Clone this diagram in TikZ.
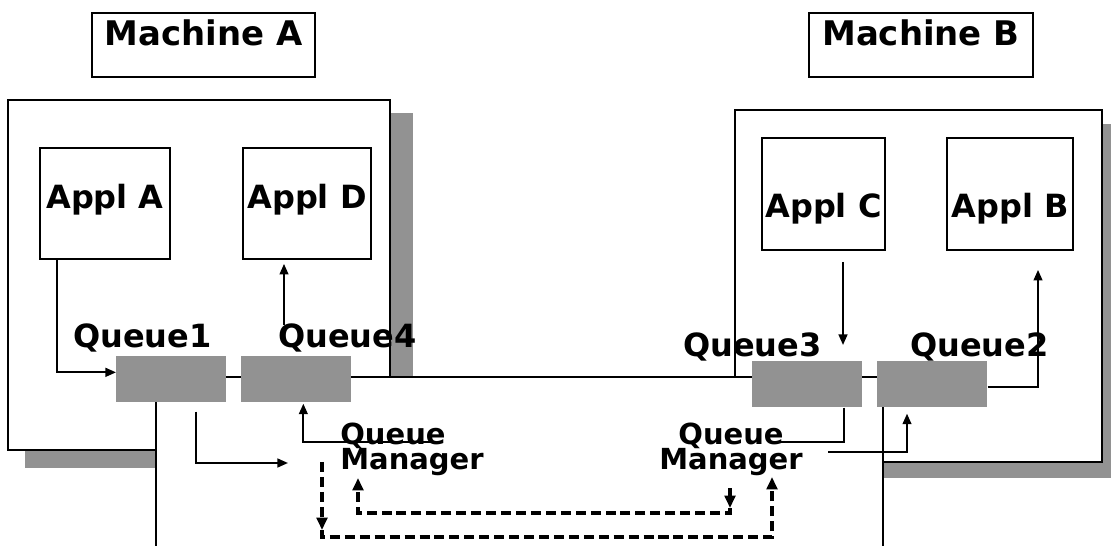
\documentclass[tikz,border=0pt]{standalone}
\usepackage{fontspec}
\setmainfont{DejaVu Sans}
\usetikzlibrary{arrows.meta,calc}
\definecolor{qGray}{RGB}{146,146,146}
\tikzset{
  box/.style={draw, line width=1.1pt, fill=white, inner sep=0pt},
  titlebox/.style={box, font=\fontsize{19.3}{22}\selectfont\bfseries, text height=0.66cm, text depth=0.62cm},
  applbox/.style={box, font=\fontsize{18.2}{21}\selectfont\bfseries},
  queuebox/.style={fill=qGray, inner sep=0pt, minimum width=2.2cm, minimum height=0.92cm, anchor=north west},
  queuelabel/.style={inner sep=0pt, anchor=base west, font=\fontsize{18.2}{21}\selectfont\bfseries},
  qmlabel/.style={inner sep=0pt, font=\fontsize{16.5}{13.7}\selectfont\bfseries},
  flow/.style={line width=1.1pt, -{Triangle[length=6pt,width=5pt]}},
  link/.style={line width=1.1pt},
  dashflow/.style={line width=2.4pt, dash pattern=on 5.7pt off 2.8pt, -{Triangle[length=7pt,width=6pt]}},
}
\begin{document}
\begin{tikzpicture}[x=0.02cm, y=-0.02cm]
  % Page frame, same margins as the reference
  \useasboundingbox (0,0) rectangle (1111,546);
  % Drop shadows of the two machines
  \fill[qGray] (25,113) rectangle (413,468);
  \fill[qGray] (750,124) rectangle (1111,478);
  % Machine frames
  \draw[line width=1.1pt, fill=white] (8,100) rectangle (390,450);
  \draw[line width=1.1pt, fill=white] (735,110) rectangle (1102,462);
  % Queue manager area, open at the bottom
  \path[draw, line width=1.1pt, fill=white] (156,546) |- (883,377) -- (883,546);
  % Titles
  \node[titlebox, minimum width=4.46cm, anchor=north west] (machA) at (91,12) {Machine A};
  \node[titlebox, minimum width=4.48cm, anchor=north west] (machB) at (808,12) {Machine B};
  % Applications
  \node[applbox, minimum width=2.6cm, text height=1.22cm, text depth=1.0cm, anchor=north west] (applA) at (39,147) {Appl A};
  \node[applbox, minimum width=2.56cm, text height=1.22cm, text depth=1.0cm, anchor=north west] (applD) at (242,147) {Appl D};
  \node[applbox, minimum width=2.46cm, text height=1.6cm, text depth=0.64cm, anchor=north west] (applC) at (761,137) {Appl C};
  \node[applbox, minimum width=2.52cm, text height=1.6cm, text depth=0.64cm, anchor=north west] (applB) at (946,137) {Appl B};
  % Queues and their names
  \node[queuebox] (queue1) at (116,356) {};
  \node[queuebox] (queue4) at (241,356) {};
  \node[queuebox] (queue3) at (752,361) {};
  \node[queuebox] (queue2) at (877,361) {};
  \node[queuelabel] (queue1lab) at (73,348) {Queue1};
  \node[queuelabel] (queue4lab) at (278,348) {Queue4};
  \node[queuelabel] (queue3lab) at (683,357) {Queue3};
  \node[queuelabel] (queue2lab) at (910,357) {Queue2};
  % Queue managers
  \node[qmlabel, align=left, anchor=north west] (qm1) at (340,423) {Queue\\[-1.5pt]Manager};
  \node[qmlabel, align=center, anchor=north] (qm2) at (731,423) {Queue\\[-1.5pt]Manager};
  % Machine A flows
  \draw[flow] ($(applA.south west)+(18,0)$) |- ($(queue1.west)+(0,-7)$);
  \draw[flow] ($(queue4.north west)+(43,-31)$) -- ($(applD.south west)+(42,4)$);
  \draw[flow] ($(queue1.south)+(25,9)$) |- ($(qm1.north west)+(-52,40)$);
  \draw[flow] ($(qm1.north west)+(93,19)$) -| ($(queue4.south)+(7,1)$);
  % Machine B flows
  \draw[flow] ($(applC.south west)+(82,11)$) -- ($(queue3.north west)+(91,-16)$);
  \draw[link] ($(queue3.south)+(37,0)$) |- ($(qm2.north)+(42,19)$);
  \draw[flow] ($(qm2.north)+(97,29)$) -| ($(queue2.south west)+(30,6)$);
  \draw[flow] ($(queue2.east)+(0,3)$) -| ($(applB.south west)+(92,19)$);
  % Channels between the two queue managers
  \draw[dashflow] ($(qm1.north west)+(-18,39)$) -- ($(qm1.north west)+(-18,107)$);
  \draw[dashflow] ($(qm1.north west)+(-18,107)$) -- ($(qm1.north west)+(-18,114)$) -| ($(qm2.north)+(41,54)$);
  \draw[dashflow] ($(qm2.north)+(-1,65)$) -- ($(qm2.north)+(-1,85)$);
  \draw[dashflow] ($(qm2.north)+(-1,85)$) -- ($(qm2.north)+(-1,90)$) -| ($(qm1.north west)+(18,55)$);
\end{tikzpicture}
\end{document}
